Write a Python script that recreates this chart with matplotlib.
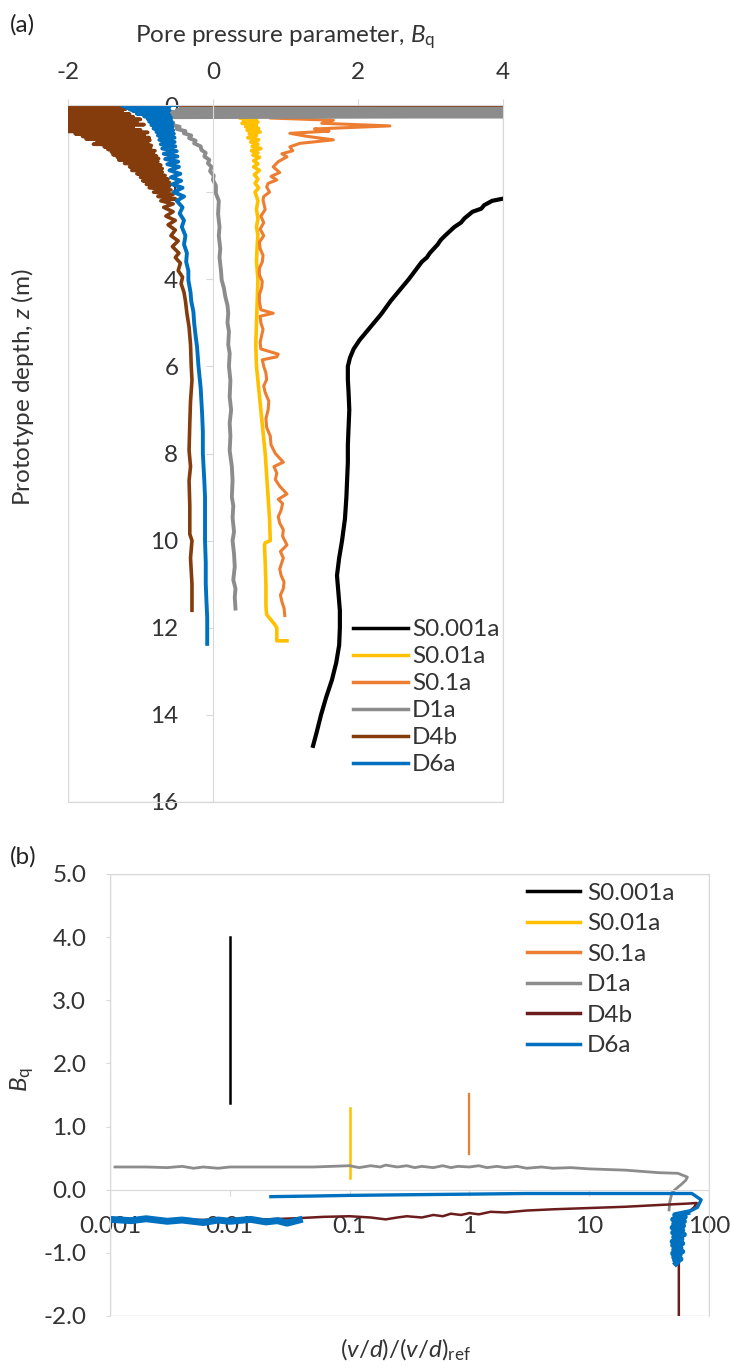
import numpy as np
import matplotlib
matplotlib.use('Agg')
import matplotlib.pyplot as plt
from matplotlib.patches import Rectangle
from matplotlib.ticker import FixedLocator, FormatStrFormatter, NullLocator

plt.rcParams['font.family'] = ['Lato', 'DejaVu Sans']
plt.rcParams['mathtext.fontset'] = 'custom'
plt.rcParams['mathtext.rm'] = 'Lato'
plt.rcParams['mathtext.it'] = 'Lato:italic'
plt.rcParams['axes.unicode_minus'] = False

# ---- (a) Bq vs prototype depth ----
s0001a_z = [2.15, 2.2, 2.3, 2.38, 2.45, 2.6, 2.7, 2.8, 3.0, 3.1, 3.2, 3.4, 3.5, 3.6, 3.8, 4.0,
            4.2, 4.5, 4.8, 5.0, 5.2, 5.4, 5.6, 5.8, 6.0, 6.3, 6.6, 7.0, 7.4, 7.8, 8.2, 8.6,
            9.0, 9.5, 10.0, 10.4, 10.8, 11.2, 11.6, 12.0, 12.4, 12.8, 13.2, 13.6, 14.0, 14.4, 14.71]
s0001a_bq = [4.0, 3.85, 3.74, 3.7, 3.58, 3.47, 3.42, 3.33, 3.2, 3.14, 3.1, 2.99, 2.95, 2.88, 2.79, 2.7,
             2.6, 2.45, 2.32, 2.22, 2.12, 2.02, 1.94, 1.89, 1.86, 1.86, 1.87, 1.88, 1.87, 1.86, 1.86, 1.85,
             1.84, 1.82, 1.78, 1.74, 1.71, 1.73, 1.75, 1.75, 1.74, 1.70, 1.64, 1.56, 1.49, 1.43, 1.38]

s001a_z = [0.3, 0.33, 0.36, 0.39, 0.42, 0.46, 0.5, 0.54, 0.58, 0.62, 0.66, 0.7, 0.75, 0.8, 0.85,
           0.9, 0.95, 1.0, 1.05, 1.1, 1.15, 1.2, 1.28, 1.35, 1.42, 1.5, 1.6, 1.7, 1.8, 1.9, 2.0,
           2.2, 2.4, 2.6, 2.8, 3.0, 3.2, 3.6, 4.0, 4.5, 5.0, 5.5, 6.0, 6.5, 7.0, 7.5, 8.0, 8.5,
           9.0, 9.5, 10.0, 10.05, 10.1, 10.5, 11.0, 11.5, 11.7, 11.9, 12.0, 12.3, 12.3]
s001a_bq = [0.38, 0.6, 0.42, 0.62, 0.4, 0.6, 0.45, 0.63, 0.47, 0.65, 0.5, 0.6, 0.48, 0.63, 0.52,
            0.62, 0.54, 0.66, 0.53, 0.62, 0.55, 0.64, 0.56, 0.62, 0.56, 0.64, 0.57, 0.62, 0.58, 0.63, 0.58,
            0.62, 0.6, 0.62, 0.6, 0.62, 0.61, 0.6, 0.62, 0.61, 0.6, 0.59, 0.6, 0.63, 0.66, 0.69, 0.72, 0.74,
            0.76, 0.78, 0.79, 0.72, 0.71, 0.72, 0.73, 0.73, 0.74, 0.84, 0.88, 0.88, 1.02]

s01a_z = [0.3, 0.35, 0.42, 0.48, 0.55, 0.6, 0.65, 0.72, 0.8, 0.88, 0.96, 1.05, 1.12, 1.19, 1.3, 1.42, 1.55,
          1.64, 1.72, 1.8, 1.88, 2.0, 2.1, 2.18, 2.4, 2.55, 2.7, 2.85, 3.0, 3.15, 3.3, 3.45, 3.6, 3.75,
          3.9, 4.05, 4.2, 4.35, 4.5, 4.7, 4.78, 4.85, 5.0, 5.15, 5.3, 5.45, 5.6, 5.72, 5.78, 5.85, 6.0,
          6.15, 6.3, 6.45, 6.6, 6.8, 7.0, 7.2, 7.4, 7.6, 7.8, 8.0, 8.2, 8.3, 8.45, 8.6, 8.75, 8.93,
          9.05, 9.15, 9.3, 9.45, 9.6, 9.75, 9.9, 10.1, 10.25, 10.4, 10.5, 10.65, 10.8, 10.95, 11.1,
          11.25, 11.4, 11.55, 11.72]
s01a_bq = [0.8, 1.66, 1.5, 2.44, 1.4, 1.6, 1.06, 1.3, 1.66, 1.2, 1.06, 1.1, 0.95, 1.02, 0.9, 0.83, 0.92,
           0.8, 0.88, 0.76, 0.74, 0.78, 0.7, 0.69, 0.72, 0.66, 0.7, 0.65, 0.7, 0.64, 0.65, 0.69, 0.68, 0.64,
           0.64, 0.68, 0.67, 0.64, 0.64, 0.66, 0.83, 0.65, 0.66, 0.69, 0.67, 0.65, 0.66, 0.9, 0.88, 0.68, 0.7,
           0.73, 0.74, 0.7, 0.72, 0.77, 0.76, 0.73, 0.74, 0.79, 0.8, 0.86, 0.97, 0.84, 0.88, 0.86, 0.92, 1.02,
           0.9, 0.96, 0.94, 0.9, 0.92, 0.97, 0.96, 1.02, 0.93, 0.97, 0.95, 0.92, 0.94, 0.98, 0.97,
           0.93, 0.95, 0.98, 0.99]

d1a_z = [0.06, 0.08, 0.1, 0.12, 0.14, 0.16, 0.18, 0.2, 0.22, 0.24, 0.26, 0.28, 0.31, 0.35, 0.4,
         0.45, 0.5, 0.55, 0.6, 0.65, 0.7, 0.76, 0.82, 0.88, 0.95, 1.03, 1.1, 1.18, 1.26, 1.34,
         1.42, 1.52, 1.62, 1.72, 1.85, 2.03, 2.2, 2.5, 2.8, 3.0, 3.3, 3.5, 3.8, 4.02, 4.2, 4.4,
         4.6, 4.78, 5.0, 5.2, 5.5, 5.7, 6.0, 6.32, 6.7, 7.0, 7.3, 7.6, 7.93, 8.3, 8.62, 9.0,
         9.2, 9.47, 9.8, 10.0, 10.3, 10.6, 10.9, 11.1, 11.3, 11.56]
d1a_bq = [4.2, -0.45, 4.2, -0.5, 4.2, -0.6, 4.2, -0.65, 4.2, -0.7, 4.2, -0.73, -0.62, -0.68, -0.55,
          -0.58, -0.46, -0.5, -0.38, -0.4, -0.3, -0.33, -0.24, -0.26, -0.17, -0.16, -0.1, -0.12, -0.05, -0.07,
          -0.02, -0.04, 0.01, 0.0, 0.04, 0.04, 0.08, 0.07, 0.09, 0.08, 0.1, 0.09, 0.11, 0.12, 0.15, 0.17,
          0.2, 0.21, 0.2, 0.22, 0.21, 0.23, 0.22, 0.24, 0.23, 0.25, 0.23, 0.24, 0.23, 0.26, 0.27, 0.26,
          0.28, 0.27, 0.29, 0.27, 0.29, 0.3, 0.28, 0.31, 0.3, 0.31]

d4b_z = [0.0, 0.0, 0.03, 0.06, 0.09, 0.12, 0.15, 0.18, 0.21, 0.24, 0.27, 0.3, 0.33, 0.36, 0.39,
         0.42, 0.45, 0.48, 0.51, 0.54, 0.57, 0.6, 0.63, 0.66, 0.69, 0.72, 0.75, 0.78, 0.81, 0.84,
         0.87, 0.9, 0.93, 0.96, 0.99, 1.02, 1.05, 1.08, 1.11, 1.14, 1.17, 1.2, 1.23, 1.26, 1.3,
         1.34, 1.38, 1.42, 1.46, 1.5, 1.54, 1.58, 1.62, 1.66, 1.7, 1.74, 1.78, 1.82, 1.86, 1.9,
         1.95, 2.0, 2.05, 2.1, 2.15, 2.2, 2.27, 2.35, 2.45, 2.55, 2.65, 2.75, 2.87, 3.0, 3.12,
         3.25, 3.4, 3.5, 3.63, 3.8, 3.95, 4.1, 4.3, 4.5, 4.78, 5.1, 5.5, 6.0, 6.32, 6.8, 7.3,
         7.93, 8.3, 8.62, 9.2, 9.85, 10.0, 10.4, 11.0, 11.6]
d4b_bq = [4.5, -2.5, -1.3, -2.5, -1.2, -2.5, -1.25, -2.5, -1.15, -2.5, -1.1, -2.5, -1.0, -2.5, -1.05,
          -2.5, -0.95, -2.5, -1.1, -2.5, -1.0, -2.3, -0.9, -1.9, -0.95, -1.8, -0.88, -1.75, -0.87, -1.6,
          -0.9, -1.65, -0.85, -1.5, -0.86, -1.45, -0.8, -1.4, -0.82, -1.38, -0.78, -1.32, -0.75, -1.3, -0.76,
          -1.22, -0.72, -1.15, -0.7, -1.12, -0.7, -1.05, -0.66, -1.0, -0.62, -0.97, -0.6, -0.92, -0.6, -0.88,
          -0.58, -0.82, -0.55, -0.76, -0.52, -0.72, -0.55, -0.68, -0.55, -0.65, -0.52, -0.62, -0.52, -0.58, -0.48,
          -0.56, -0.47, -0.52, -0.45, -0.48, -0.42, -0.44, -0.4, -0.38, -0.36, -0.33, -0.31, -0.3, -0.29, -0.31, -0.32,
          -0.33, -0.31, -0.33, -0.32, -0.32, -0.29, -0.31, -0.29, -0.29]

d6a_z = [0.0, 0.02, 0.04, 0.06, 0.08, 0.1, 0.12, 0.14, 0.17, 0.2, 0.23, 0.26, 0.29, 0.32, 0.35,
         0.38, 0.42, 0.46, 0.5, 0.54, 0.58, 0.62, 0.66, 0.7, 0.75, 0.8, 0.85, 0.9, 0.95, 1.0,
         1.06, 1.12, 1.18, 1.24, 1.3, 1.36, 1.42, 1.5, 1.58, 1.66, 1.74, 1.82, 1.9, 2.0, 2.1,
         2.2, 2.35, 2.49, 2.65, 2.8, 3.0, 3.2, 3.4, 3.6, 3.8, 4.02, 4.3, 4.5, 4.75, 5.0, 5.3,
         5.55, 6.0, 6.5, 7.09, 7.5, 8.0, 8.62, 9.0, 9.47, 10.0, 10.5, 10.99, 11.4, 11.77, 12.1, 12.37]
d6a_bq = [-0.5, -1.25, -0.6, -1.2, -0.62, -1.15, -0.6, -1.1, -0.62, -1.05, -0.6, -0.95, -0.58, -0.9, -0.58,
          -0.88, -0.56, -0.85, -0.56, -0.82, -0.55, -0.78, -0.54, -0.76, -0.53, -0.74, -0.53, -0.72, -0.52, -0.7,
          -0.5, -0.68, -0.49, -0.66, -0.48, -0.63, -0.47, -0.6, -0.45, -0.58, -0.44, -0.56, -0.42, -0.54, -0.4,
          -0.5, -0.42, -0.46, -0.4, -0.43, -0.38, -0.4, -0.36, -0.37, -0.34, -0.34, -0.31, -0.3, -0.27, -0.26, -0.24,
          -0.22, -0.2, -0.17, -0.15, -0.14, -0.14, -0.12, -0.11, -0.11, -0.11, -0.1, -0.1, -0.09, -0.08, -0.08, -0.08]

# ---- (b) Bq vs normalised velocity ----
b_s0001a_v = [0.01, 0.01]
b_s0001a_bq = [1.37, 4.0]
b_s001a_v = [0.1, 0.1]
b_s001a_bq = [0.18, 1.3]
b_s01a_v = [1.0, 1.0]
b_s01a_bq = [0.57, 1.52]

b_d1a_v = [0.0011, 0.002, 0.003, 0.004, 0.005, 0.006, 0.008, 0.01, 0.02, 0.05, 0.1, 0.12, 0.15, 0.18,
           0.2, 0.25, 0.3, 0.35, 0.4, 0.5, 0.6, 0.7, 0.8, 1.0, 1.2, 1.4, 1.7, 2.0, 2.5, 3.0, 4.0,
           5.0, 7.0, 10.0, 20.0, 38.0, 55.0, 66.0, 64.0, 60.0, 52.0, 49.0, 47.0, 46.4]
b_d1a_bq = [0.36, 0.36, 0.35, 0.37, 0.34, 0.36, 0.34, 0.36, 0.36, 0.36, 0.38, 0.35, 0.38, 0.36,
            0.39, 0.36, 0.38, 0.35, 0.37, 0.35, 0.38, 0.35, 0.37, 0.36, 0.38, 0.35, 0.37, 0.35, 0.37, 0.34, 0.36,
            0.34, 0.35, 0.33, 0.31, 0.27, 0.26, 0.2, 0.15, 0.1, 0.0, -0.05, -0.2, -0.32]

b_d4b_v = [0.0012, 0.005, 0.01, 0.02, 0.038, 0.06, 0.1, 0.15, 0.2, 0.25, 0.3, 0.4, 0.5, 0.6, 0.7,
           0.85, 1.0, 1.2, 1.5, 2.0, 3.0, 5.0, 10.0, 20.0, 40.0, 66.0, 79.0, 75.0, 59.0, 56.0, 56.0]
b_d4b_bq = [-0.48, -0.48, -0.47, -0.47, -0.45, -0.43, -0.42, -0.44, -0.47, -0.44, -0.42, -0.44, -0.4,
            -0.42, -0.38, -0.4, -0.37, -0.39, -0.35, -0.36, -0.33, -0.31, -0.29, -0.27, -0.24, -0.22, -0.21,
            -0.28, -0.44, -0.6, -2.05]

b_d6a_low_v = [0.001, 0.0015, 0.002, 0.003, 0.004, 0.006, 0.008, 0.01, 0.015, 0.02, 0.025, 0.03, 0.038]
b_d6a_low_bq = [-0.47, -0.49, -0.46, -0.5, -0.48, -0.52, -0.48, -0.5, -0.47, -0.51, -0.49, -0.53, -0.48]
b_d6a_up_v = [0.022, 0.05, 0.1, 0.3, 1.0, 3.0, 10.0, 30.0, 72.0, 86.0, 80.0, 66.0,
              52.0, 63.0, 50.0, 62.0, 51.0, 61.0, 49.5, 60.0, 50.0, 62.0, 51.0, 59.0, 49.5, 60.0,
              50.0, 58.0, 51.0, 60.0, 50.0, 57.0, 51.0, 58.0, 52.0, 55.0, 53.0]
b_d6a_up_bq = [-0.11, -0.1, -0.09, -0.08, -0.07, -0.06, -0.06, -0.06, -0.06, -0.16, -0.28, -0.36,
               -0.4, -0.43, -0.47, -0.5, -0.54, -0.57, -0.6, -0.64, -0.68, -0.71, -0.75, -0.78, -0.82, -0.85,
               -0.88, -0.92, -0.95, -0.98, -1.01, -1.04, -1.07, -1.1, -1.12, -1.14, -1.17]

labels = ['S0.001a', 'S0.01a', 'S0.1a', 'D1a', 'D4b', 'D6a']
colors_a = ['#000000', '#FFC000', '#ED7D31', '#8C8C8C', '#843C0C', '#0070C0']
colors_b = ['#000000', '#FFC000', '#ED7D31', '#8C8C8C', '#6B1D1D', '#0070C0']

frame_col = '#D9D9D9'
txt_col = '#333333'
fs = 17.5
W, H = 731, 1371
fig = plt.figure(figsize=(W / 100, H / 100), dpi=100)

# ======== panel (a) ========
ax = fig.add_axes([68 / W, 1 - 802 / H, 435 / W, 697 / H])
series_a = [(s0001a_bq, s0001a_z), (s001a_bq, s001a_z), (s01a_bq, s01a_z),
            (d1a_bq, d1a_z), (d4b_bq, d4b_z), (d6a_bq, d6a_z)]
lws_a = [3.0, 2.6, 2.2, 2.8, 2.6, 2.8]
for (bq, z), lab, c, lw in zip(series_a, labels, colors_a, lws_a):
    ax.plot(bq, z, color=c, lw=lw, label=lab, solid_joinstyle='round')

ax.set_xlim(-2, 4)
ax.set_ylim(16, 0)
ax.xaxis.tick_top()
ax.set_xticks([-2, 0, 2, 4])
ax.set_yticks(range(0, 17, 2))
ax.tick_params(axis='x', length=4, width=0.8, color=frame_col, pad=12, labelsize=fs, labelcolor=txt_col)
ax.tick_params(axis='y', length=5, width=0.8, color=frame_col, pad=20, labelsize=fs, labelcolor=txt_col)
for s in ['top', 'right', 'bottom']:
    ax.spines[s].set_color(frame_col)
ax.spines['left'].set_position(('data', 0))
ax.spines['left'].set_color(frame_col)
ax.add_patch(Rectangle((0, 0), 1, 1, transform=ax.transAxes, fill=False,
                       ec=frame_col, lw=1.0, zorder=0))
leg = ax.legend(loc='upper left', bbox_to_anchor=(0.655, 0.262), frameon=False, fontsize=fs,
                handlelength=2.26, handletextpad=0.17, labelspacing=0.245, borderpad=0, borderaxespad=0)
for t in leg.get_texts():
    t.set_color(txt_col)
for h in leg.get_lines():
    h.set_linewidth(2.5)

fig.text(10 / W, 1 - 25 / H, '(a)', fontsize=fs, ha='left', va='center', color='#222222')
fig.text(285 / W, 1 - 37 / H, r'Pore pressure parameter, $\mathit{B}_\mathrm{q}$', fontsize=fs,
         ha='center', va='center', color=txt_col)
fig.text(23 / W, 1 - 387 / H, r'Prototype depth, $\mathit{z}$ (m)', fontsize=fs, rotation=90,
         ha='center', va='center', color=txt_col)

# ======== panel (b) ========
bx = fig.add_axes([110 / W, 1 - 1316 / H, 599 / W, 442 / H])
d6a_v = b_d6a_low_v + [np.nan] + b_d6a_up_v
d6a_b = b_d6a_low_bq + [np.nan] + b_d6a_up_bq
series_b = [(b_s0001a_v, b_s0001a_bq), (b_s001a_v, b_s001a_bq), (b_s01a_v, b_s01a_bq),
            (b_d1a_v, b_d1a_bq), (b_d4b_v, b_d4b_bq)]
lws_b = [1.8, 1.8, 1.6, 2.0, 1.8]
for (v, bq), lab, c, lw in zip(series_b, labels[:5], colors_b[:5], lws_b):
    bx.plot(v, bq, color=c, lw=lw, label=lab)
bx.plot(d6a_v, d6a_b, color=colors_b[5], lw=2.4, label=labels[5])
# thicker noisy parts of D6a
bx.plot(b_d6a_low_v, b_d6a_low_bq, color=colors_b[5], lw=5)
bx.plot(b_d6a_up_v[11:], b_d6a_up_bq[11:], color=colors_b[5], lw=4, solid_joinstyle='round')

bx.set_xscale('log')
bx.set_xlim(0.001, 100)
bx.set_ylim(-2, 5)
bx.xaxis.set_major_locator(FixedLocator([0.001, 0.01, 0.1, 1, 10, 100]))
bx.xaxis.set_minor_locator(NullLocator())
bx.set_xticklabels(['0.001', '0.01', '0.1', '1', '10', '100'])
bx.set_yticks(np.arange(-2, 5.01, 1.0))
bx.yaxis.set_major_formatter(FormatStrFormatter('%.1f'))
bx.spines['bottom'].set_position(('data', 0))
for s in bx.spines.values():
    s.set_color(frame_col)
bx.add_patch(Rectangle((0, 0), 1, 1, transform=bx.transAxes, fill=False,
                       ec=frame_col, lw=1.0, zorder=0))
bx.tick_params(axis='x', length=4, width=0.8, color=frame_col, pad=15, labelsize=fs, labelcolor=txt_col)
bx.tick_params(axis='y', length=3, width=0.8, color=frame_col, pad=14, labelsize=fs, labelcolor=txt_col)
leg2 = bx.legend(loc='upper left', bbox_to_anchor=(0.696, 0.98), frameon=False, fontsize=fs,
                 handlelength=2.18, handletextpad=0.29, labelspacing=0.39, borderpad=0, borderaxespad=0)
for t in leg2.get_texts():
    t.set_color(txt_col)
for h in leg2.get_lines():
    h.set_linewidth(2.5)

fig.text(10 / W, 1 - 857 / H, '(b)', fontsize=fs, ha='left', va='center', color='#222222')
fig.text(22 / W, 1 - 1080 / H, r'$\mathit{B}_\mathrm{q}$', fontsize=fs, rotation=90,
         ha='center', va='center', color=txt_col)
fig.text(405 / W, 1 - 1350 / H, r'$(\mathit{v}/\mathit{d})/(\mathit{v}/\mathit{d})_\mathrm{ref}$',
         fontsize=fs, ha='center', va='center', color=txt_col)

fig.savefig('out.png', dpi=100)
